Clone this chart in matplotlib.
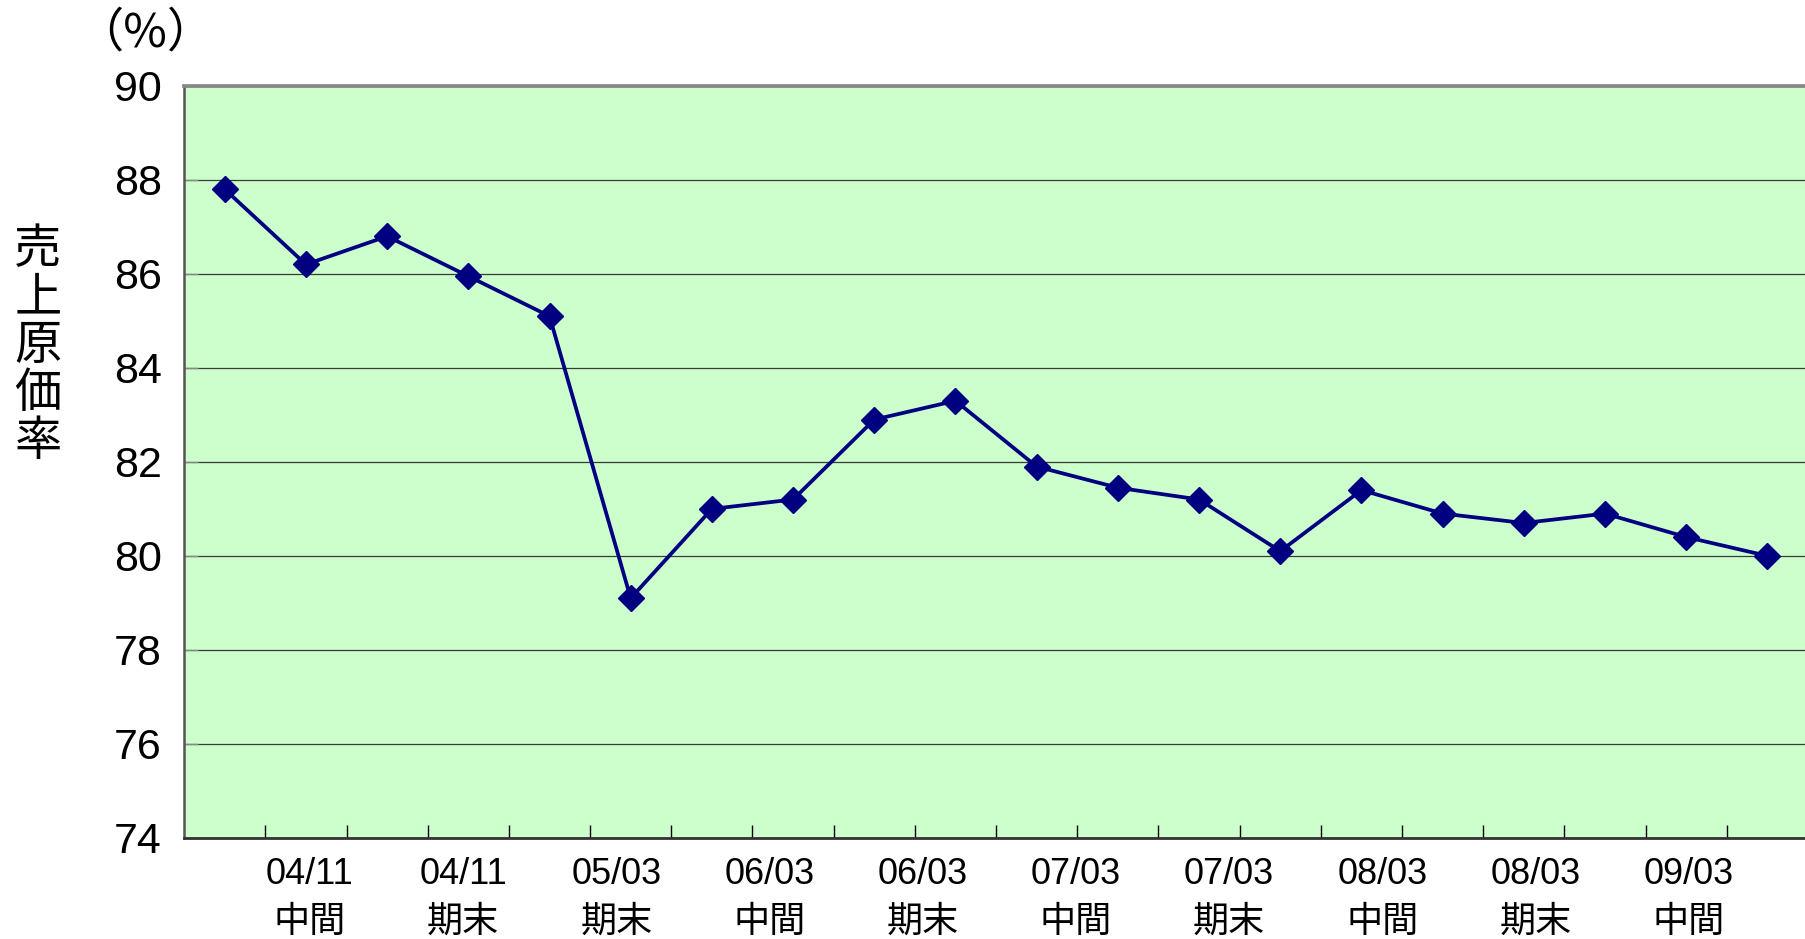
import numpy as np
import matplotlib
matplotlib.use("Agg")
import matplotlib.pyplot as plt

# ---- data ----
values = [87.8, 86.2, 86.8, 85.95, 85.1, 79.1, 81.0, 81.2, 82.9, 83.3,
          81.9, 81.45, 81.2, 80.1, 81.4, 80.9, 80.7, 80.9, 80.4, 80.0]
period_labels = ["04/11\n中間", "04/11\n期末", "05/03\n期末", "06/03\n中間", "06/03\n期末",
                 "07/03\n中間", "07/03\n期末", "08/03\n中間", "08/03\n期末", "09/03\n中間"]
y_ticks = [74, 76, 78, 80, 82, 84, 86, 88, 90]
y_label = "売上原価率"
unit_label = "（%）"

DPI = 100
W, H = 1805, 939
fig = plt.figure(figsize=(W / DPI, H / DPI), dpi=DPI)
fig.patch.set_facecolor("white")
ax = fig.add_axes([0.102, 0.1076, 0.8997, 0.801])
ax.set_facecolor("#CCFFCC")

x = np.arange(len(values))
ax.plot(x, values, color="#000080", lw=2.7, marker="D", markersize=13,
        markerfacecolor="#000080", markeredgecolor="#000080", zorder=3, clip_on=False)

ax.set_xlim(-0.5, len(values) - 0.5)
ax.set_ylim(y_ticks[0], y_ticks[-1])
ax.set_yticks(y_ticks)
ax.yaxis.grid(True, color="#3a3a3a", lw=0.9)
ax.set_axisbelow(True)

# y tick labels
ax.tick_params(axis="y", which="major", direction="in", length=10, width=1.0,
               color="#888888", pad=16, labelsize=31, labelcolor="black")
for lab in ax.get_yticklabels():
    lab.set_family(["Liberation Sans"])

# x: tick marks between categories, labels spread across the axis
ax.set_xticks(np.arange(len(values) - 1) + 0.5, minor=True)
label_pos = np.linspace(1.05, 18.03, len(period_labels))
ax.set_xticks(label_pos)
ax.set_xticklabels(period_labels, family=["Liberation Sans", "Noto Sans CJK JP"],
                   fontsize=26, linespacing=1.45)
ax.tick_params(axis="x", which="major", length=0, pad=14)
ax.tick_params(axis="x", which="minor", direction="in", length=9.5, width=1.0, color="black")

# spines
ax.spines["right"].set_visible(False)
ax.spines["top"].set_color("#888888")
ax.spines["top"].set_linewidth(2.7)
ax.spines["left"].set_color("#555555")
ax.spines["left"].set_linewidth(1.8)
ax.spines["bottom"].set_color("#333333")
ax.spines["bottom"].set_linewidth(2.0)

# unit label
fig.text(145 / W, 1 - 33 / H, unit_label, ha="center", va="center",
         fontsize=34, family=["Noto Sans CJK JP", "Liberation Sans"])

# vertical y label: upright characters stacked top to bottom
char_pitch = 48
y_first = 250
for i, ch in enumerate(y_label):
    fig.text(38 / W, 1 - (y_first + i * char_pitch) / H, ch, ha="center", va="center",
             fontsize=34, family=["Noto Sans CJK JP"])

fig.savefig("out.png", dpi=DPI, facecolor="white")
